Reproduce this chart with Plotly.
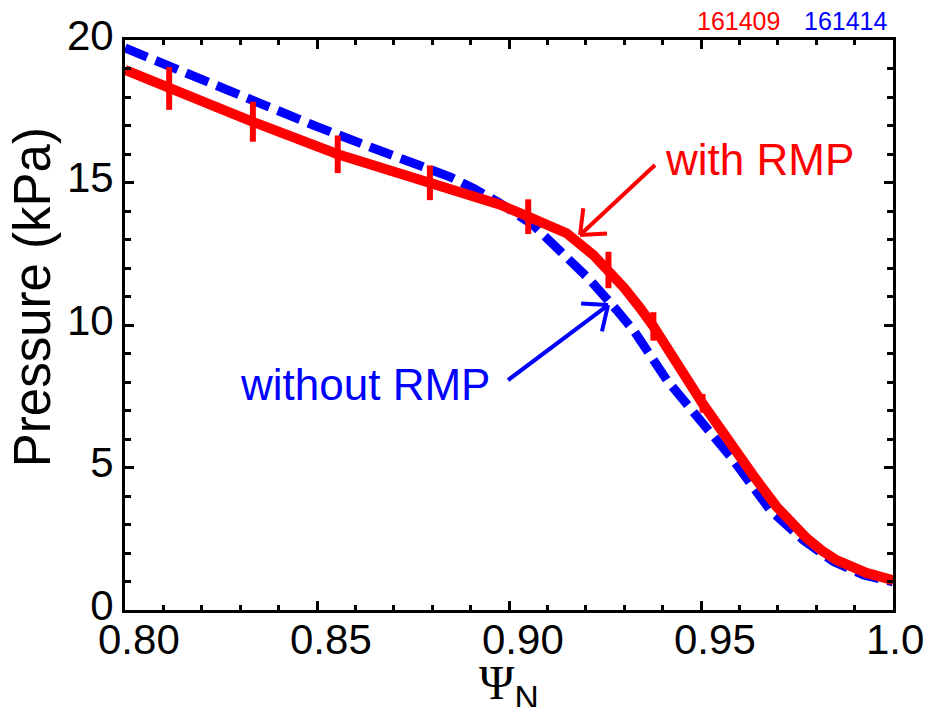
import math
import plotly.graph_objects as go

# Fitted pressure profiles (kPa) versus normalised poloidal flux
psi_rmp = [0.800, 0.8115, 0.8333, 0.8554, 0.8794, 0.8977, 0.905, 0.915, 0.922,
           0.9259, 0.9300, 0.9340, 0.9376, 0.9504, 0.9570, 0.9636, 0.9697, 0.9740,
           0.9775, 0.9815, 0.9853, 0.9931, 1.000]
p_rmp = [18.95, 18.30, 17.13, 15.99, 14.99, 14.22, 13.80, 13.22, 12.45,
         11.93, 11.30, 10.62, 9.95, 7.25, 5.95, 4.72, 3.62, 2.98,
         2.52, 2.08, 1.75, 1.30, 1.05]

psi_norm = [0.800, 0.8333, 0.850, 0.8647, 0.8733, 0.8846, 0.8907, 0.8977, 0.9063,
            0.9141, 0.9211, 0.9280, 0.9324, 0.9411, 0.9497, 0.9584, 0.968, 0.9766,
            0.9845, 0.9923, 1.000]
p_norm = [19.72, 17.84, 16.96, 16.20, 15.80, 15.20, 14.80, 14.27, 13.51,
          12.51, 11.58, 10.53, 9.82, 8.07, 6.67, 5.26, 3.51, 2.46,
          1.70, 1.23, 0.99]

# Measured points with uncertainties for the RMP discharge
psi_meas = [0.8115, 0.8333, 0.8554, 0.8794, 0.905, 0.9259, 0.9376, 0.9504]
p_meas = [18.30, 17.13, 15.99, 14.99, 13.80, 11.93, 9.95, 7.25]
p_err = [0.75, 0.70, 0.66, 0.61, 0.61, 0.64, 0.50, 0.33]

x_tick_vals = [0.80, 0.85, 0.90, 0.95, 1.0]
x_tick_text = ["0.80", "0.85", "0.90", "0.95", "1.0"]
y_tick_vals = [0, 5, 10, 15, 20]
y_tick_text = ["0", "5", "10", "15", "20"]

RED = "#ff0000"
BLUE = "#0000ff"
FONT = "Liberation Sans, Arial, Helvetica, sans-serif"

W, H = 926, 707
ML, MR, MT, MB = 125, 33, 40, 97
X_RANGE = [0.80, 1.0]
Y_RANGE = [0, 20]
DX = (X_RANGE[1] - X_RANGE[0]) / (W - ML - MR)   # data units per pixel
DY = (Y_RANGE[1] - Y_RANGE[0]) / (H - MT - MB)

fig = go.Figure()

fig.add_trace(go.Scatter(
    x=psi_norm, y=p_norm, mode="lines",
    line=dict(color=BLUE, width=9, dash="24px,9px"),
    showlegend=False, hoverinfo="skip"))

fig.add_trace(go.Scatter(
    x=psi_rmp, y=p_rmp, mode="lines",
    line=dict(color=RED, width=10),
    showlegend=False, hoverinfo="skip"))

fig.add_trace(go.Scatter(
    x=psi_meas, y=p_meas, mode="markers",
    marker=dict(size=1, color=RED),
    error_y=dict(type="data", array=p_err, visible=True,
                 color=RED, thickness=6, width=0),
    showlegend=False, hoverinfo="skip"))


def arrow_shapes(tip_x, tip_y, tail_dx, tail_dy, color, leg=27, spread=40):
    """Open-headed arrow; tail offset given in screen pixels (y downwards)."""
    shapes = []
    tail_x = tip_x + tail_dx * DX
    tail_y = tip_y - tail_dy * DY
    shapes.append(dict(type="line", xref="x", yref="y",
                       x0=tail_x, y0=tail_y, x1=tip_x, y1=tip_y,
                       line=dict(color=color, width=4)))
    ang = math.atan2(tail_dy, tail_dx)
    for s in (-1, 1):
        a = ang + s * math.radians(spread)
        ex = tip_x + leg * math.cos(a) * DX
        ey = tip_y - leg * math.sin(a) * DY
        shapes.append(dict(type="line", xref="x", yref="y",
                           x0=tip_x, y0=tip_y, x1=ex, y1=ey,
                           line=dict(color=color, width=4)))
    return shapes


shapes = []
shapes += arrow_shapes(0.9185, 13.16, 75, -70, RED)
shapes += arrow_shapes(0.9258, 10.70, -100, 75, BLUE)

annotations = []
# x tick labels
for v, t in zip(x_tick_vals, x_tick_text):
    annotations.append(dict(
        x=v, y=0, xref="x", yref="paper", text=t, showarrow=False,
        xanchor="left", yanchor="middle", xshift=-29, yshift=-29,
        font=dict(family=FONT, size=42, color="black")))

annotations += [
    dict(x=0.9401, y=15.79, xref="x", yref="y", text="with RMP",
         showarrow=False, xanchor="left", yanchor="middle",
         font=dict(family=FONT, size=44, color=RED)),
    dict(x=0.8294, y=7.93, xref="x", yref="y", text="without RMP",
         showarrow=False, xanchor="left", yanchor="middle",
         font=dict(family=FONT, size=44, color=BLUE)),
    dict(x=0.855, y=1.033, xref="paper", yref="paper", text="161409",
         showarrow=False, xanchor="right", yanchor="middle",
         font=dict(family=FONT, size=25, color=RED)),
    dict(x=0.996, y=1.033, xref="paper", yref="paper", text="161414",
         showarrow=False, xanchor="right", yanchor="middle",
         font=dict(family=FONT, size=25, color=BLUE)),
    dict(x=-0.121, y=0.549, xref="paper", yref="paper", text="Pressure (kPa)",
         showarrow=False, xanchor="center", yanchor="middle", textangle=-90,
         font=dict(family=FONT, size=51, color="black")),
    dict(x=0.5, y=-0.077, xref="paper", yref="paper",
         text="<span style=\"font-family:Liberation Serif\">\u03a8</span><sub>N</sub>",
         showarrow=False, xanchor="center", yanchor="top",
         font=dict(family=FONT, size=48, color="black")),
]

axis_common = dict(
    showline=True, linecolor="black", linewidth=3, mirror="allticks",
    ticks="inside", tickcolor="black", tickwidth=3, ticklen=9,
    showgrid=False, zeroline=False,
)

fig.update_layout(
    width=W, height=H, autosize=False,
    margin=dict(l=ML, r=MR, t=MT, b=MB, pad=0),
    paper_bgcolor="white", plot_bgcolor="white",
    font=dict(family=FONT, color="black"),
    xaxis=dict(range=X_RANGE, tickvals=x_tick_vals, showticklabels=False,
               minor=dict(dtick=0.01, tick0=0.8, ticks="inside", ticklen=5,
                          tickwidth=3, tickcolor="black"),
               **axis_common),
    yaxis=dict(range=Y_RANGE, tickvals=y_tick_vals, ticktext=y_tick_text,
               tickfont=dict(family=FONT, size=42, color="black"),
               ticklabelstandoff=0, ticklabelshift=-5,
               minor=dict(dtick=1, tick0=0, ticks="inside", ticklen=6,
                          tickwidth=3, tickcolor="black"),
               **axis_common),
    shapes=shapes,
    annotations=annotations,
)

fig.write_html("out.html")
